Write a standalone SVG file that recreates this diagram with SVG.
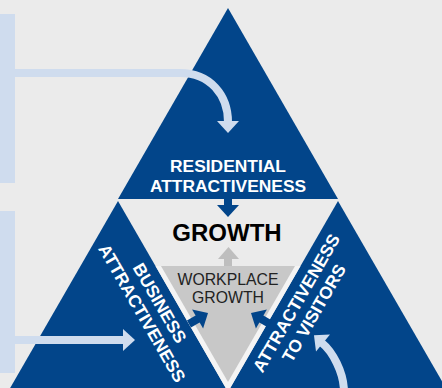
<svg xmlns="http://www.w3.org/2000/svg" width="442" height="388" viewBox="0 0 442 388">
<style>
.blue{fill:#02458a}
.lb{fill:#cfdcee}
.lbs{fill:none;stroke:#cfdcee;stroke-width:8}
.wt{font-family:"Liberation Sans",Arial,sans-serif;font-weight:bold;font-size:17.4px;fill:#fff;text-anchor:middle}
.bk{font-family:"Liberation Sans",Arial,sans-serif;text-anchor:middle}
</style>
<defs>
<g id="darr"><rect x="-22" y="-4" width="11" height="8"/><polygon points="-12,-11 0,0 -12,11"/></g>
</defs>
<rect width="442" height="388" fill="#ebebeb"/>
<g id="bars">
<rect class="lb" x="0" y="14" width="15" height="169"/>
<rect class="lb" x="0" y="211" width="15" height="162"/>
</g>
<g id="residential">
<polygon class="blue" points="228,8 118,199 338,199"/>
<text class="wt" x="228" y="172">RESIDENTIAL</text>
<text class="wt" x="228" y="191.5">ATTRACTIVENESS</text>
</g>
<g id="business">
<polygon class="blue" points="118,201 9,390 227,390"/>
<g transform="translate(151,308) rotate(60)">
<text class="wt" x="0" y="-4">BUSINESS</text>
<text class="wt" x="0" y="16.4">ATTRACTIVENESS</text>
</g>
</g>
<g id="visitors">
<polygon class="blue" points="338,201 229,390 447,390"/>
<g transform="translate(305,308) rotate(-60)">
<text class="wt" x="0" y="-4">ATTRACTIVENESS</text>
<text class="wt" x="0" y="16.4">TO VISITORS</text>
</g>
</g>
<g id="growth">
<text class="bk" x="227" y="241" font-size="24" font-weight="bold" fill="#000">GROWTH</text>
</g>
<g id="workplace">
<polygon fill="#f4f4f4" points="155.5,266 300.5,266 228,392"/>
<polygon fill="#c8c8c8" points="161,266 295,266 228,382"/>
<text class="bk" x="228" y="285" font-size="15.8" fill="#222">WORKPLACE</text>
<text class="bk" x="228" y="302.5" font-size="15.8" fill="#222">GROWTH</text>
</g>
<g id="connectors">
<path class="lbs" d="M15,73 H180 C210,73 228,95 228,122"/>
<polygon class="lb" points="217,121 239,121 228,133"/>
<path class="lbs" d="M15,340 H124"/>
<polygon class="lb" points="123,329 123,351 135,340"/>
<path class="lbs" d="M344,392 C344,372 332,351 322,343"/>
<polygon class="lb" points="330,334.6 314,335.3 316,351.4"/>
<rect class="blue" x="224" y="197" width="8" height="9"/>
<polygon class="blue" points="217,205 239,205 228,217"/>
<rect fill="#bebebe" x="224" y="258" width="8" height="8"/>
<polygon fill="#bebebe" points="218,259 239,259 228.5,247"/>
<use href="#darr" class="blue" transform="translate(208,313) rotate(-30)"/>
<use href="#darr" class="blue" transform="translate(251,313) rotate(-150)"/>
</g>
</svg>
